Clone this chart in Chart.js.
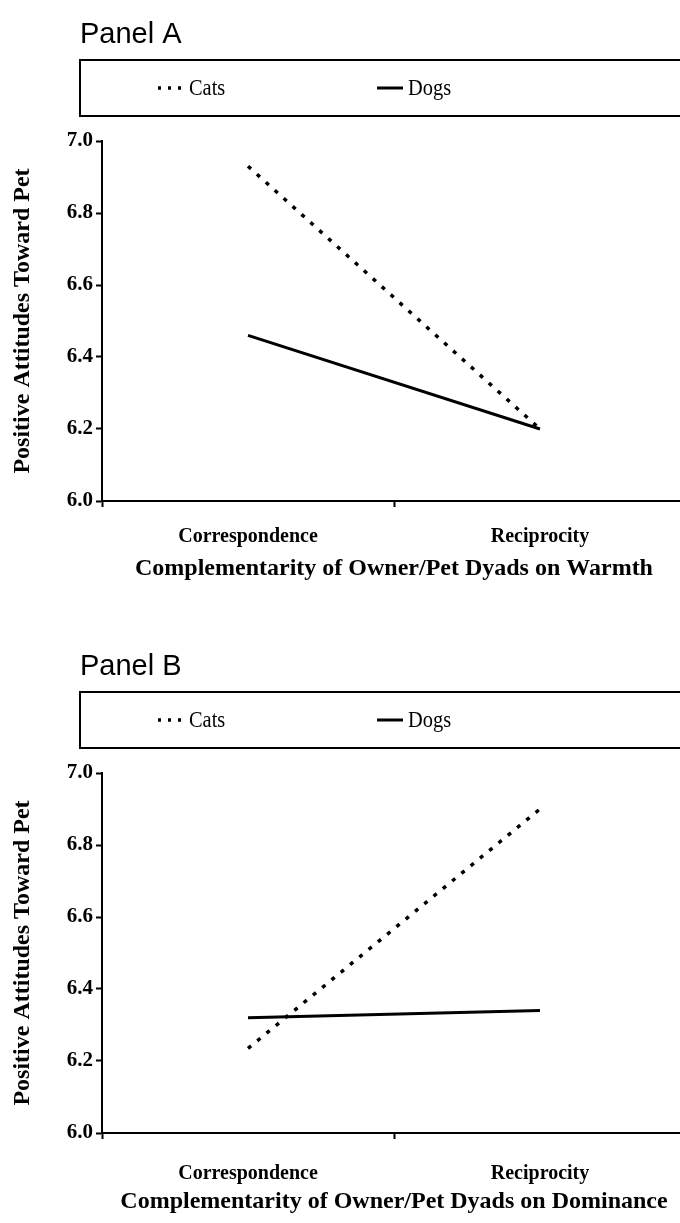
<!DOCTYPE html>
<html>
<head>
<meta charset="utf-8">
<script src="https://cdn.jsdelivr.net/npm/chart.js@4.4.1/dist/chart.umd.min.js"></script>
<style>
  html, body { margin: 0; padding: 0; background: #fff; overflow: hidden; }
  canvas { position: absolute; left: 0; }
  #panelA { top: 0; }
  #panelB { top: 632px; }
</style>
</head>
<body>
<canvas id="panelA" width="690" height="600"></canvas>
<canvas id="panelB" width="690" height="591"></canvas>
<script>
// categories and tick labels
const categories = ['Correspondence', 'Reciprocity'];
const yTicks = [6.0, 6.2, 6.4, 6.6, 6.8, 7.0];

// Panel A - warmth
const catsWarmth = [6.93, 6.20];
const dogsWarmth = [6.46, 6.20];

// Panel B - dominance
const catsDominance = [6.235, 6.90];
const dogsDominance = [6.32, 6.34];

const serif = '"Liberation Serif", "Times New Roman", serif';
const sans = '"Liberation Sans", Arial, sans-serif';

// draws the "Panel X" heading and the boxed legend above the plot
const panelHeader = {
    id: 'panelHeader',
    afterDraw(chart, args, opts) {
        const ctx = chart.ctx;
        ctx.save();
        ctx.fillStyle = '#000';
        ctx.font = '29px ' + sans;
        ctx.textBaseline = 'alphabetic';
        ctx.textAlign = 'left';
        ctx.fillText(opts.title, opts.titleX, opts.titleY);

        ctx.strokeStyle = '#000';
        ctx.lineWidth = 2;
        ctx.strokeRect(opts.box.left, opts.box.top, opts.box.right - opts.box.left, opts.box.bottom - opts.box.top);

        const midY = (opts.box.top + opts.box.bottom) / 2;
        ctx.textBaseline = 'middle';
        chart.data.datasets.forEach((ds, i) => {
            const x = opts.itemX[i];
            ctx.beginPath();
            ctx.setLineDash(i === 0 ? [3, 7] : []);
            ctx.lineWidth = ds.borderWidth;
            ctx.moveTo(x, midY);
            ctx.lineTo(x + opts.sampleLen, midY);
            ctx.stroke();
            ctx.setLineDash([]);
            // the legend type is a narrow Times, so squeeze it a little
            ctx.save();
            ctx.translate(x + opts.sampleLen + 5, midY + 1);
            ctx.scale(0.85, 1);
            ctx.font = '24px ' + serif;
            ctx.fillText(ds.label, 0, 0);
            ctx.restore();
        });
        ctx.restore();
    }
};

function makePanel(id, title, cats, dogs, xTitle, canvasHeight, tickPad, titlePad) {
    const padLeft = 4;
    return new Chart(document.getElementById(id), {
        type: 'line',
        data: {
            labels: categories,
            datasets: [{
                label: 'Cats',
                data: cats,
                borderColor: '#000',
                borderWidth: 3.5,
                borderDash: [4, 8],
                pointRadius: 0,
                tension: 0
            }, {
                label: 'Dogs',
                data: dogs,
                borderColor: '#000',
                borderWidth: 3,
                pointRadius: 0,
                tension: 0
            }]
        },
        options: {
            responsive: false,
            devicePixelRatio: 1,
            animation: false,
            layout: { padding: { left: padLeft, right: 4, top: 141, bottom: 0 } },
            plugins: {
                legend: { display: false },
                tooltip: { enabled: false },
                panelHeader: {
                    title: title,
                    titleX: 80,
                    titleY: 43,
                    box: { left: 80, top: 60, right: 700, bottom: 116 },
                    itemX: [158, 377],
                    sampleLen: 26
                }
            },
            scales: {
                x: {
                    type: 'category',
                    offset: true,
                    afterFit: (scale) => { scale.height = canvasHeight - 501; },
                    grid: { offset: true, drawOnChartArea: false, drawTicks: true, tickLength: 6, color: '#000', tickWidth: 2 },
                    border: { color: '#000', width: 2 },
                    ticks: { color: '#000', padding: tickPad, font: { family: serif, size: 20, weight: 'bold' } },
                    title: {
                        display: true,
                        text: xTitle,
                        color: '#000',
                        font: { family: serif, size: 24, weight: 'bold' },
                        padding: { top: 0, bottom: titlePad }
                    }
                },
                y: {
                    min: 6,
                    max: 7,
                    afterFit: (scale) => { scale.width = 102 - padLeft; },
                    afterBuildTicks: (scale) => { scale.ticks = yTicks.map(v => ({ value: v })); },
                    grid: { drawOnChartArea: false, drawTicks: true, tickLength: 6, color: '#000', tickWidth: 2 },
                    border: { color: '#000', width: 2 },
                    ticks: {
                        color: '#000',
                        padding: 3,
                        font: { family: serif, size: 21, weight: 'bold' },
                        callback: (v) => Number(v).toFixed(1)
                    },
                    title: {
                        display: true,
                        text: 'Positive Attitudes Toward Pet',
                        color: '#000',
                        font: { family: serif, size: 24, weight: 'bold' },
                        padding: { top: 4, bottom: 0 }
                    }
                }
            }
        },
        plugins: [panelHeader]
    });
}

makePanel('panelA', 'Panel A', catsWarmth, dogsWarmth, 'Complementarity of Owner/Pet Dyads on Warmth', 600, 18, 17);
makePanel('panelB', 'Panel B', catsDominance, dogsDominance, 'Complementarity of Owner/Pet Dyads on Dominance', 591, 23, 7);
</script>
</body>
</html>
